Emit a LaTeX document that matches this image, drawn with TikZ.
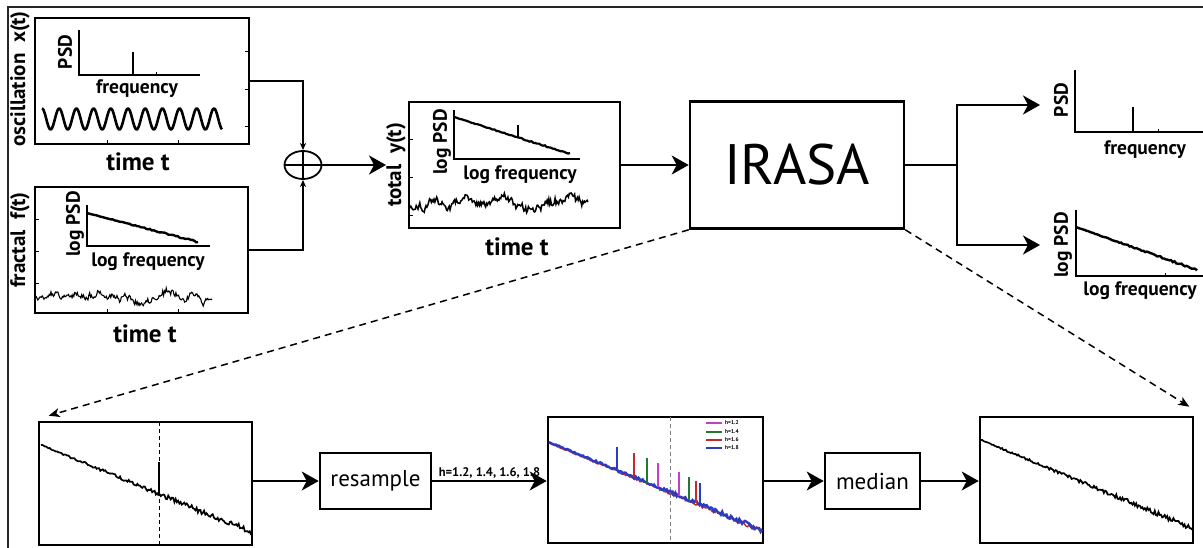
\documentclass[tikz,border=0pt]{standalone}
\usepackage{fontspec}
\setmainfont{PT Sans}
\usetikzlibrary{arrows.meta,shapes.geometric,calc}

\definecolor{hmag}{HTML}{C040C8}
\definecolor{hgreen}{HTML}{1E7A2E}
\definecolor{hred}{HTML}{C82828}
\definecolor{hblue}{HTML}{2A3CC0}

% random walk around a centre line, with a little fast jitter on top
\newcommand\walktrace[8]{% x0, x1, ycentre, n, step, pull, jitter, options
  \xdef\wky{0}
  \xdef\wkpath{(#1,#3)}
  \pgfmathsetmacro\wkdx{(#2-#1)/#4}
  \foreach \k in {1,...,#4}{
    \pgfmathsetmacro\wknew{\wky*(1-#6)+#5*rand}
    \xdef\wky{\wknew}
    \pgfmathsetmacro\wkx{#1+\wkdx*\k}
    \pgfmathsetmacro\wkyy{#3+\wky+#7*rand}
    \xdef\wkpath{\wkpath -- (\wkx,\wkyy)}
  }
  \draw[#8] \wkpath;
}
% sloped spectrum with jitter growing to the right
\newcommand\spectrace[7]{% x0, y0, x1, y1, n, amp, options
  \xdef\wkpath{(#1,#2)}
  \pgfmathsetmacro\wkdx{(#3-#1)/#5}
  \pgfmathsetmacro\wkdy{(#4-#2)/#5}
  \foreach \k in {1,...,#5}{
    \pgfmathsetmacro\wkx{#1+\wkdx*\k}
    \pgfmathsetmacro\wkyy{#2+\wkdy*\k+#6*(0.25+\k/#5)*rand}
    \xdef\wkpath{\wkpath -- (\wkx,\wkyy)}
  }
  \draw[#7] \wkpath;
}

\tikzset{
  plotbox/.style={draw, line width=2.6pt, inner sep=0pt, rectangle},
  stagebox/.style={draw, line width=2.6pt, inner sep=0pt, rectangle, font=\fontsize{23}{25}\selectfont},
  axis/.style={line width=2.2pt},
  conn/.style={line width=1.8pt},
  bigarrow/.style={conn, -{Stealth[length=17pt,width=19pt,inset=5pt]}},
  smallarrow/.style={conn, -{Stealth[length=7pt,width=6pt,inset=2pt]}},
  dasharrow/.style={line width=1.5pt, dash pattern=on 7pt off 5pt, -{Stealth[length=11pt,width=9pt,inset=3pt]}},
  sidelabel/.style={rotate=90, inner sep=0pt, font=\bfseries\fontsize{21}{22}\selectfont},
  timelabel/.style={inner sep=0pt, font=\bfseries\fontsize{25}{26}\selectfont},
  axlabel/.style={inner sep=0pt, font=\bfseries\fontsize{19.5}{20}\selectfont},
  axlabelr/.style={rotate=90, inner sep=0pt, font=\bfseries\fontsize{19.5}{20}\selectfont},
  legtext/.style={inner sep=0pt, anchor=west, font=\bfseries\fontsize{5.5}{6}\selectfont},
}

\begin{document}
\begin{tikzpicture}[x=1pt,y=-1pt]
\useasboundingbox (0,0) rectangle (1203,548);
\pgfmathsetseed{4242}

% outer frame
\draw[line width=1.4pt, black!85] (8,548) -- (8,7) -- (1203,7);

% ---------- oscillation x(t)
\node[plotbox, minimum width=214pt, minimum height=126pt] (osc) at (142,81) {};
\foreach \yt in {52,90,127} \draw[line width=1pt] (249,\yt) -- (245,\yt);
\foreach \xt in {107,178} \draw[line width=1pt] (\xt,144) -- (\xt,140);
\draw[axis] (79,30) -- (79,75) -- (200,75);
\draw[axis] (133,52) -- (133,75);
\draw[line width=1pt] (156,75) -- (156,72);
\node[axlabelr] (oscpsd) at (65,52) {PSD};
\node[axlabel] (oscfreq) at (137,89) {frequency};
\draw[line width=2.6pt, line join=round] plot[domain=42:222, samples=260] (\x,{119-10.5*cos(((\x-42)/17.2)*360)});
\node[timelabel] (osctime) at (138,162) {time t};
\node[sidelabel] (osclab) at (20,79) {oscillation\ \ x(t)};

% ---------- fractal f(t)
\node[plotbox, minimum width=213pt, minimum height=126pt] (frac) at (141.5,250) {};
\foreach \yt in {220,252,284} \draw[line width=1pt] (35,\yt) -- (39,\yt);
\foreach \xt in {107,178} \draw[line width=1pt] (\xt,313) -- (\xt,309);
\draw[axis] (87,205) -- (87,246) -- (210,246);
\spectrace{87}{213}{198}{242}{60}{0.7}{line width=2.4pt}
\node[axlabelr] (fracpsd) at (75,224) {log PSD};
\node[axlabel] (fracfreq) at (148,262) {log frequency};
\walktrace{36}{212}{296}{200}{2.6}{0.06}{1.6}{line width=1.1pt}
\node[timelabel] (fractime) at (145,334) {time t};
\node[sidelabel] (fraclab) at (20,240) {fractal\ \ f(t)};

% ---------- summation
\node[draw, ellipse, line width=1.8pt, minimum width=37pt, minimum height=28pt, inner sep=0pt] (sum) at (303,165) {};
\draw[line width=1.8pt] (sum.west) -- (sum.east) (sum.north) -- (sum.south);
\draw[smallarrow] (osc.east) -| (sum.north);
\draw[smallarrow] (frac.east) -| (sum.south);

% ---------- total y(t)
\node[plotbox, minimum width=211pt, minimum height=126pt] (total) at (514.5,165) {};
\foreach \yt in {140,178,216} \draw[line width=1pt] (409,\yt) -- (413,\yt);
\draw[axis] (454,110) -- (454,159) -- (580,159);
\spectrace{454}{117}{570}{154}{60}{0.7}{line width=2.2pt}
\draw[line width=2.2pt] (518,137) -- (518,125);
\node[axlabelr] (totpsd) at (442,142) {log PSD};
\node[axlabel] (totfreq) at (520,175) {log frequency};
\walktrace{410}{588}{208}{200}{3.3}{0.08}{1.8}{line width=1.5pt}
\node[timelabel] (tottime) at (517,247) {time t};
\node[sidelabel] (totlab) at (396,165) {total\ \ y(t)};
\draw[bigarrow] (sum.east) -- (sum.east -| totlab.north);

% ---------- IRASA
\node[stagebox, minimum width=214pt, minimum height=127pt, font=\fontsize{57}{60}\selectfont] (irasa) at (797,165) {IRASA};
\draw[bigarrow] (total.east) -- (irasa.west);
\coordinate (split) at (957,165);
\coordinate (outosc) at (1040,105);
\coordinate (outfrac) at (1040,245);
\draw[conn] (irasa.east) -- (split);
\draw[bigarrow] (split) |- (outosc);
\draw[bigarrow] (split) |- (outfrac);

% oscillatory output
\draw[axis] (1075,70) -- (1075,132) -- (1203,132);
\draw[axis] (1133,107) -- (1133,132);
\draw[line width=1pt] (1158,132) -- (1158,129);
\node[axlabelr] (outpsd) at (1061,100) {PSD};
\node[axlabel] (outfreq) at (1145,150) {frequency};

% fractal output
\draw[axis] (1076,210) -- (1076,276) -- (1203,276);
\spectrace{1076}{227}{1197}{270}{70}{0.8}{line width=2.4pt}
\draw[line width=1pt] (1165,276) -- (1165,273);
\node[axlabelr] (outlpsd) at (1063,245) {log PSD};
\node[axlabel] (outlfreq) at (1140,291) {log frequency};

% ---------- bottom row
\node[plotbox, minimum width=213pt, minimum height=123pt] (b1) at (145.5,483.5) {};
\draw[line width=0.9pt, dash pattern=on 4pt off 3pt] (159,422) -- (159,545);
\spectrace{41}{445}{251}{532}{170}{2.6}{line width=1.7pt}
\draw[line width=2.4pt] (159,494) -- (159,462);

\node[stagebox, minimum width=111pt, minimum height=56pt] (resample) at (375.5,481) {resample};
\draw[bigarrow] (resample.west -| b1.east) -- (resample.west);

\node[plotbox, minimum width=215pt, minimum height=126pt] (b3) at (655.5,480) {};
\draw[line width=0.9pt, gray, dash pattern=on 4pt off 3pt] (670,417) -- (670,543);
\spectrace{549}{443}{762}{531}{150}{1.8}{line width=1.4pt, hred}
\spectrace{549}{442}{762}{530}{150}{2.0}{line width=2.4pt, hblue}
\draw[line width=2pt, hblue] (617,470) -- (617,447);
\draw[line width=2pt, hred] (634,477) -- (634,453);
\draw[line width=2pt, hgreen] (647,483) -- (647,458);
\draw[line width=2pt, hmag] (658,487) -- (658,463);
\draw[line width=2pt, hmag] (679,496) -- (679,472);
\draw[line width=2pt, hgreen] (689,500) -- (689,477);
\draw[line width=2pt, hred] (696,503) -- (696,481);
\draw[line width=2pt, hblue] (700,505) -- (700,483);
\foreach \ly/\lc/\lt in {423/hmag/1.2, 432/hgreen/1.4, 440/hred/1.6, 448/hblue/1.8}{
  \draw[line width=2.4pt, \lc] (706,\ly) -- (722,\ly);
  \node[legtext] (leg\lt) at (725,\ly) {h=\lt};
}
\draw[bigarrow] (resample.east) -- (resample.east -| b3.west)
  node[midway, above=2pt, inner sep=0pt, font=\bfseries\fontsize{12.5}{13}\selectfont] (hlab) {h=1.2, 1.4, 1.6, 1.8};

\node[stagebox, minimum width=95pt, minimum height=56pt] (median) at (872.5,481) {median};
\draw[bigarrow] (median.west -| b3.east) -- (median.west);

\node[plotbox, minimum width=213pt, minimum height=126pt] (b5) at (1086.5,480) {};
\spectrace{981}{440}{1192}{528}{170}{2.2}{line width=1.7pt}
\draw[bigarrow] (median.east) -- (median.east -| b5.west);

% ---------- zoom-out dashed links
\draw[dasharrow] (irasa.south west) -- ($(b1.north west)+(11,-5)$);
\draw[dasharrow] (irasa.south east) -- ($(b5.north east)+(-5,-9)$);
\end{tikzpicture}
\end{document}
